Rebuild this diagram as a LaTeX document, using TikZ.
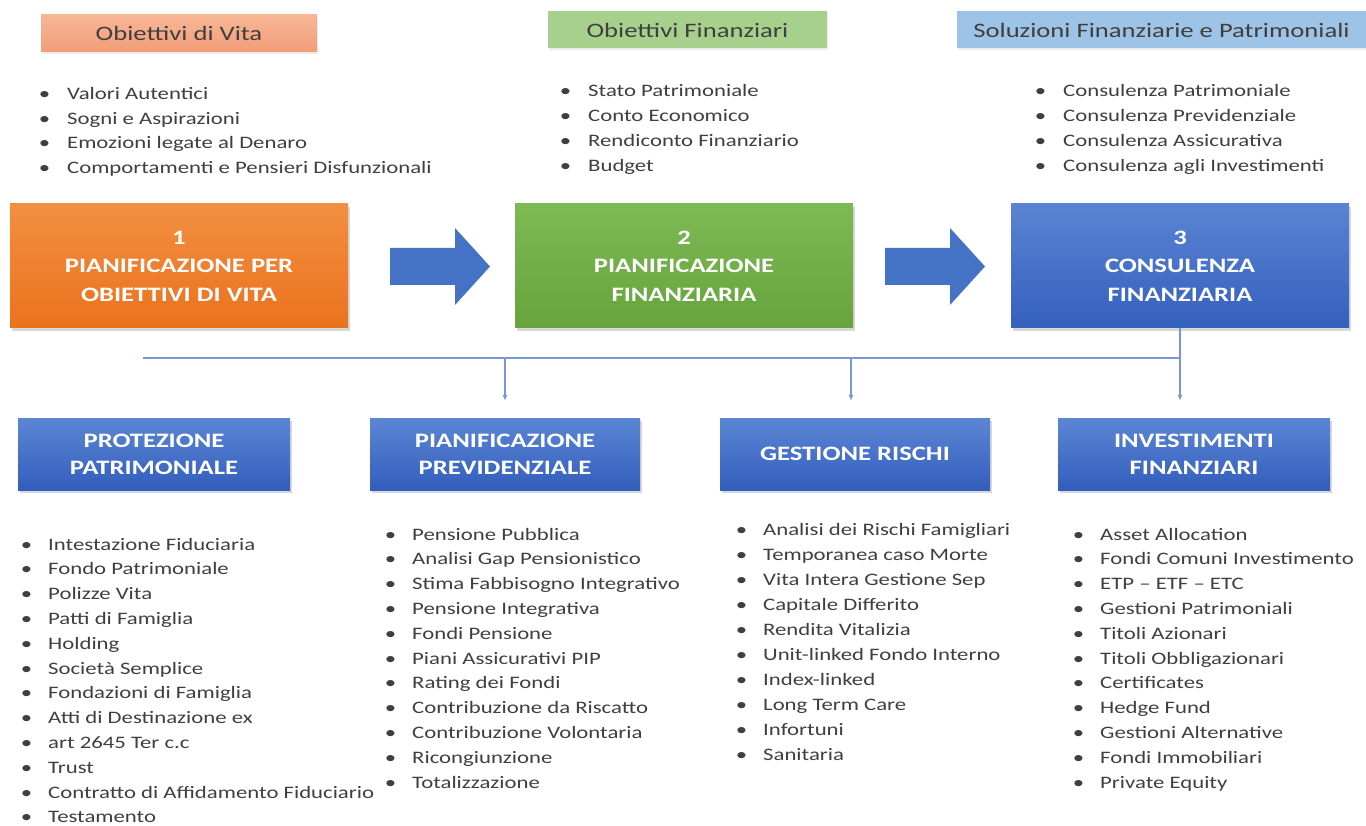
\documentclass[tikz,border=0pt]{standalone}
\usepackage{fontspec}
\setmainfont{Carlito}[FakeStretch=1.3]
\usetikzlibrary{shadows,arrows.meta}
\definecolor{txtgray}{HTML}{3F3F3F}
\definecolor{arrowblue}{HTML}{4472C4}
\definecolor{linkblue}{HTML}{7896DA}

\begin{document}
\begin{tikzpicture}[x=1pt,y=-1pt,
  header/.style={minimum height=37pt, inner sep=0pt, text=txtgray, font=\fontsize{20.5}{24}\selectfont, drop shadow={opacity=0.15, shadow xshift=1pt, shadow yshift=-2pt}},
  item/.style={anchor=base west, inner sep=0pt, text=txtgray, font=\fontsize{17.5}{21}\selectfont},
  mainbox/.style={minimum width=338pt, minimum height=124pt, inner sep=0pt, align=center, text=white, font=\bfseries\fontsize{20.5}{28.5}\selectfont, drop shadow={opacity=0.3, shadow xshift=2pt, shadow yshift=-3pt}},
  subbox/.style={minimum width=272pt, minimum height=72pt, inner sep=0pt, align=center, text=white, top color={rgb,255:red,92;green,134;blue,212}, bottom color={rgb,255:red,50;green,94;blue,188}, font=\bfseries\fontsize{20.5}{27}\selectfont, drop shadow={opacity=0.3, shadow xshift=2pt, shadow yshift=-3pt}},
  conn/.style={draw=linkblue, line width=1.8pt},
  bigarrow/.style={fill=arrowblue}]
\useasboundingbox[fill=white] (0,0) rectangle (1366,826);

\node[header, minimum width=276pt, top color={rgb,255:red,248;green,182;blue,150}, bottom color={rgb,255:red,241;green,158;blue,120}] (hVita) at (179,33.5) {Obiettivi di Vita};
\node[header, minimum width=279pt, fill={rgb,255:red,168;green,208;blue,141}] (hFin) at (687.5,30) {Obiettivi Finanziari};
\node[header, minimum width=409pt, fill={rgb,255:red,157;green,195;blue,230}] (hSol) at (1161.5,30) {Soluzioni Finanziarie e Patrimoniali};

\foreach \t [count=\i from 0] in {Valori Autentici, Sogni e Aspirazioni, Emozioni legate al Denaro, Comportamenti e Pensieri Disfunzionali}
  \node[item] (vita\i) at (67,100+24.4*\i) {\llap{\textbullet\hspace{17pt}}\t};
\foreach \t [count=\i from 0] in {Stato Patrimoniale, Conto Economico, Rendiconto Finanziario, Budget}
  \node[item] (fin\i) at (588,97+25*\i) {\llap{\textbullet\hspace{17pt}}\t};
\foreach \t [count=\i from 0] in {Consulenza Patrimoniale, Consulenza Previdenziale, Consulenza Assicurativa, Consulenza agli Investimenti}
  \node[item] (sol\i) at (1063,97+25*\i) {\llap{\textbullet\hspace{17pt}}\t};

\node[mainbox, top color={rgb,255:red,242;green,143;blue,64}, bottom color={rgb,255:red,234;green,114;blue,30}] (b1) at (179,266) {1\\PIANIFICAZIONE PER\\OBIETTIVI DI VITA};
\node[mainbox, top color={rgb,255:red,124;green,186;blue,84}, bottom color={rgb,255:red,104;green,163;blue,60}] (b2) at (684,266) {2\\PIANIFICAZIONE\\FINANZIARIA};
\node[mainbox, top color={rgb,255:red,90;green,132;blue,210}, bottom color={rgb,255:red,52;green,96;blue,190}] (b3) at (1180,266) {3\\CONSULENZA\\FINANZIARIA};

\foreach \x in {390,885}
  \fill[bigarrow] (\x,248) -- (\x+65,248) -- (\x+65,228) -- (\x+100,266.5) -- (\x+65,305) -- (\x+65,285) -- (\x,285) -- cycle;

\node[subbox] (s1) at (154,454) {PROTEZIONE\\PATRIMONIALE};
\node[subbox, minimum width=270pt] (s2) at (505,454) {PIANIFICAZIONE\\PREVIDENZIALE};
\node[subbox, minimum width=270pt] (s3) at (855,454) {GESTIONE RISCHI};
\node[subbox] (s4) at (1194,454) {INVESTIMENTI\\FINANZIARI};

\coordinate (bus) at (143,358);
\draw[conn] (b3.south) -- (b3.south |- bus) -- (bus);
\draw[conn, -{Latex[length=6pt,width=5pt]}, shorten >=17pt] (s2.north |- bus) -- (s2.north);
\draw[conn, -{Latex[length=6pt,width=5pt]}, shorten >=17pt] (851,358) -- (s3.north -| 851,0);
\draw[conn, -{Latex[length=6pt,width=5pt]}, shorten >=17pt] (b3.south |- bus) -- (b3.south |- s4.north);

\foreach \t [count=\i from 0] in {Intestazione Fiduciaria, Fondo Patrimoniale, Polizze Vita, Patti di Famiglia, Holding, Società Semplice, Fondazioni di Famiglia, Atti di Destinazione ex, art 2645 Ter c.c, Trust, Contratto di Affidamento Fiduciario, Testamento}
  \node[item] (prot\i) at (48,550+24.8*\i) {\llap{\textbullet\hspace{16pt}}\t};
\foreach \t [count=\i from 0] in {Pensione Pubblica, Analisi Gap Pensionistico, Stima Fabbisogno Integrativo, Pensione Integrativa, Fondi Pensione, Piani Assicurativi PIP, Rating dei Fondi, Contribuzione da Riscatto, Contribuzione Volontaria, Ricongiunzione, Totalizzazione}
  \node[item] (prev\i) at (412,540+24.8*\i) {\llap{\textbullet\hspace{16pt}}\t};
\foreach \t [count=\i from 0] in {Analisi dei Rischi Famigliari, Temporanea caso Morte, Vita Intera Gestione Sep, Capitale Differito, Rendita Vitalizia, Unit-linked Fondo Interno, Index-linked, Long Term Care, Infortuni, Sanitaria}
  \node[item] (risk\i) at (763,535+25*\i) {\llap{\textbullet\hspace{16pt}}\t};
\foreach \t [count=\i from 0] in {Asset Allocation, Fondi Comuni Investimento, ETP -- ETF -- ETC, Gestioni Patrimoniali, Titoli Azionari, Titoli Obbligazionari, Certificates, Hedge Fund, Gestioni Alternative, Fondi Immobiliari, Private Equity}
  \node[item] (inv\i) at (1100,540+24.8*\i) {\llap{\textbullet\hspace{16pt}}\t};
\end{tikzpicture}
\end{document}
